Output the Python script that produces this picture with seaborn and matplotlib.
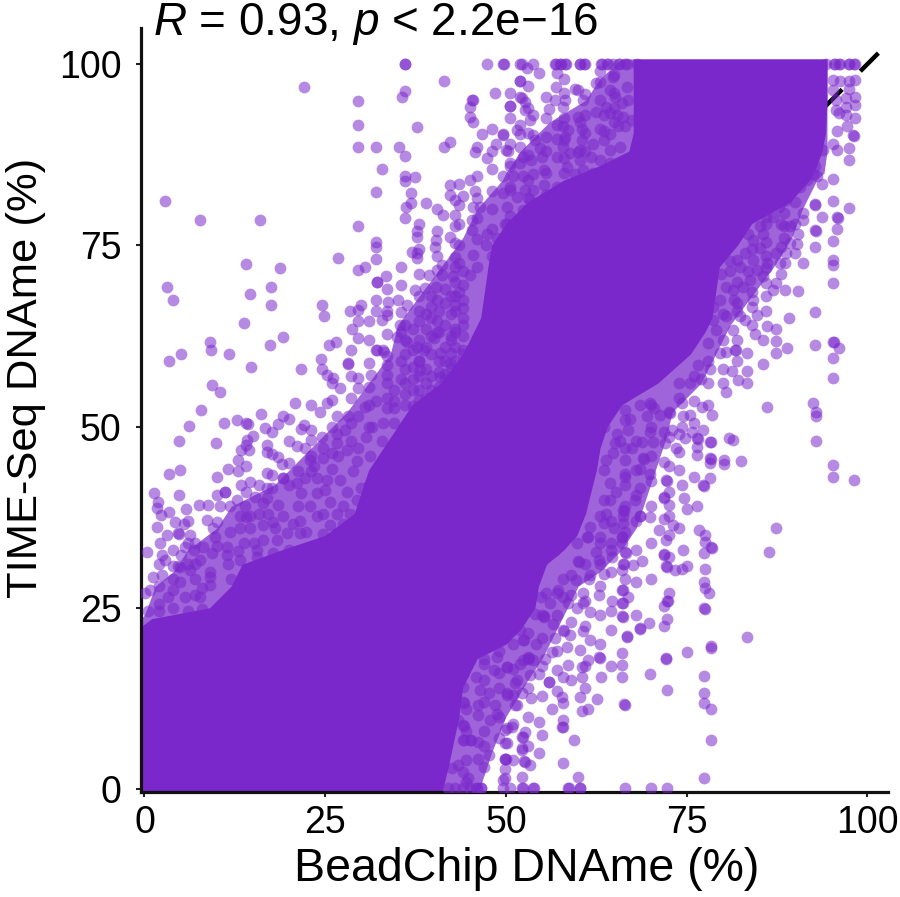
"""plot.py - BeadChip vs TIME-Seq DNA methylation scatter."""

import matplotlib
matplotlib.use("Agg")
import matplotlib.pyplot as plt
import seaborn as sns

PURPLE = "#7a28cb"

# Dense mass of overlapping points, read as left and right edges per y level
core_y = [-1, 3, 10, 14, 18, 20, 22, 23.5, 25, 28, 31, 33, 35, 38, 44, 47, 50, 53, 56,
          60, 63, 65, 72, 75, 78, 81, 84, 86, 88, 90.5, 95, 100.7]
core_left = [-1, -1, -1, -1, -1, -1, -1, 1, 9, 12, 13.5, 19, 25, 29, 31, 33, 35, 37, 41,
             44, 45.5, 46.5, 47.5, 48, 50, 53, 58, 63, 67, 67.6, 67.6, 67.6]
core_right = [41, 42, 43.5, 44, 46, 50, 52, 53, 54, 54.5, 55.6, 58, 59.8, 61, 62.5, 63, 64, 66, 71,
              75.5, 77.5, 78.5, 79.5, 82, 84, 89.3, 92, 93, 93.7, 94.2, 94.4, 94.4]

# Wider, mottled zone where points overlap but leave small gaps
halo_y = [-1, 5, 10, 15, 18, 22, 23, 24, 28, 30, 33, 36, 39, 42, 45, 48, 52, 56, 60, 64, 68, 72, 76,
          80, 84, 85, 88, 92, 95, 98, 100.7]
halo_left = [-1, -1, -1, -1, -1, -1, -1, 0, 1.5, 4, 6, 10, 12, 18, 21, 24, 28, 31, 34, 35, 38, 41, 44,
             46, 49.5, 50, 52, 56, 61, 63, 66]
halo_right = [46, 48, 50, 53, 55, 57, 57.5, 58, 60, 63, 66, 68, 69, 70, 71, 72, 73, 77, 79, 81, 84, 87, 89.5,
              91, 93, 94, 94.4, 94.4, 94.4, 94.4, 94.4]

# Points sitting on the 100 % line
top_x = [47.4, 49.6, 49.7, 51.9, 52.2, 53.8, 56.8, 56.9, 57.5, 57.6, 58.2, 58.3, 60.2, 60.3, 60.8, 60.9,
         63.2, 63.3, 64, 64.1, 64.8, 65.6, 65.7, 66.4, 66.7, 68.1, 94.2, 95.4, 95.5, 96.1, 96.2,
         97.4, 97.5, 98.2, 98.3, 36.0, 36.1]

# Points on the 0 % line
bottom_x = [42, 43, 44, 45, 45.9, 46, 46.5, 46.6, 49.6, 50.6, 52.2, 52.3, 53.8, 53.9, 58.6, 58.7, 60.2,
            60.3, 66.5, 70.1, 72.3]

# Outlying points above the diagonal, upper left
upper_left = [(52.9, 99.4), (22.1, 96.9), (29.6, 94.9), (36.0, 96.3), (35.6, 95.4), (41.4, 97.6), (45.3, 95.1),
              (45.5, 95.1), (45.0, 94.1), (45.0, 92.7), (45.4, 92.0), (48.5, 96.0), (50.6, 94.2), (52.0, 97.6),
              (52.0, 95.4), (29.6, 91.6), (37.7, 91.3), (29.6, 88.5), (32.0, 88.5), (35.2, 88.5), (36.0, 87.3),
              (41.4, 88.5), (42.3, 89.3), (32.8, 85.5), (45.7, 87.8), (46.7, 90.3), (47.4, 87.1), (48.6, 89.0),
              (50.3, 88.0), (49.6, 90.4), (51.5, 90.9), (36.0, 84.5), (37.4, 84.4), (36.0, 83.8), (36.9, 82.2),
              (32.0, 82.3), (42.3, 83.3), (42.3, 81.9), (44.1, 81.8), (45.0, 84.0), (45.7, 82.5), (43.0, 81.2),
              (38.9, 80.8), (36.9, 80.8), (36.2, 80.3), (36.0, 78.8), (2.9, 81.1), (7.7, 78.5), (16.0, 78.5),
              (29.5, 77.7), (41.3, 79.2), (43.0, 79.2), (43.0, 77.6), (45.5, 80.3), (46.4, 80.3), (45.3, 78.5),
              (45.3, 77.1), (47.4, 76.6), (49.9, 78.0), (48.7, 76.0), (37.7, 77.0), (37.7, 76.2), (40.3, 75.7),
              (40.2, 74.7), (42.3, 76.1), (43.0, 75.3), (47.3, 75.0), (32.0, 75.5), (32.0, 74.8), (32.0, 73.1),
              (37.0, 74.1), (37.7, 73.9), (37.7, 73.2), (43.0, 73.4), (45.4, 73.7), (41.2, 72.3), (41.2, 70.9),
              (43.0, 72.0), (42.7, 70.7), (45.0, 70.9), (26.8, 73.3), (14.1, 72.4), (18.8, 71.8), (30.5, 72.0),
              (29.5, 71.6), (33.4, 70.8), (32.1, 70.0), (32.2, 69.9), (39.4, 70.9), (3.1, 69.2), (4.0, 67.4),
              (17.5, 69.2), (14.6, 68.3), (17.5, 66.7), (13.7, 64.3), (24.5, 66.7), (24.8, 65.3), (28.4, 66.0),
              (30.0, 66.7), (29.5, 66.1), (29.5, 64.6), (28.7, 63.4), (29.5, 62.2), (32.0, 67.4), (32.0, 66.0),
              (33.7, 67.2), (33.5, 65.4), (32.8, 64.7), (35.1, 67.5), (36.3, 66.8), (38.8, 69.1), (40.3, 69.2),
              (37.4, 68.9), (39.7, 66.5), (40.4, 64.5), (35.3, 64.0), (19.1, 62.3), (17.4, 61.2), (9.1, 61.6),
              (9.2, 60.5), (11.7, 60.0), (5.1, 60.0), (3.4, 59.0), (14.8, 58.2), (25.5, 61.3), (26.5, 61.6),
              (24.4, 59.3), (24.5, 58.0), (21.7, 57.9), (28.1, 58.7), (28.2, 58.6), (25.2, 57.1), (26.1, 56.7),
              (9.4, 55.7), (10.5, 54.8), (27.0, 55.3), (29.5, 56.7), (29.5, 55.3), (31.4, 57.1), (33.5, 58.5),
              (33.5, 57.1), (32.0, 60.5), (32.1, 60.6), (33.0, 60.5), (33.1, 60.3), (34.9, 62.4), (36.3, 61.7),
              (37.7, 61.0), (40.0, 62.2), (38.6, 60.5), (37.2, 58.2), (38.1, 57.8), (40.9, 60.1), (42.3, 58.7),
              (40.9, 56.9)]

# Columns of points in the half-dense part between 35 and 48 % BeadChip
mid_cols_x = [34.5, 36, 37.2, 38, 39, 39.7, 40.8, 41.5, 42.4, 43, 44]
mid_cols_y = [[55, 53.5, 52.5],
              [64, 62, 60, 58, 56, 54.5, 53],
              [63.5, 60.5, 56.5, 55, 52.8],
              [66, 62, 59, 57, 55, 53.6],
              [65.5, 63.5, 61, 58, 56, 54],
              [68, 65, 62.5, 60, 57, 55],
              [66, 63, 59, 57.5, 55.4, 53.8],
              [69, 67, 64, 61, 59, 56.5, 54.5, 57.2],
              [68, 65.5, 62.5, 60.2, 58, 55.5, 62],
              [70, 68, 66, 63.5, 61, 59, 57, 55, 66.8, 63],
              [69.5, 67.5, 65, 62.5, 60.5, 58, 64, 66.4, 60, 71.5]]

# Columns of points along the upper edge of the diagonal cloud
edge_up_x = [2, 4, 7, 6, 10, 14, 17, 20, 23, 26, 28.5, 31, 33.5, 35.5, 38, 40.5, 43.5, 46, 48, 50.5, 53,
             55.5, 58, 61, 63, 65]
edge_up_y = [[24.5, 28, 31], [27.5, 29, 33], [29, 31, 34], [31, 34, 37], [33.5, 36.8, 40.5, 43],
             [37.5, 41, 44.5, 47.5], [40.2, 43.6, 47.5], [42, 45, 48, 51], [43.8, 46, 49.5, 53],
             [46.4, 50, 53.6, 56], [48, 50.5, 54, 57, 60.5], [50, 53, 55.5, 58.8, 62, 64.5],
             [54, 56, 59.7, 62.7, 66, 69], [56.5, 59, 63, 65.8, 69.5, 72], [59, 64.5, 68, 71, 74.5, 78],
             [63, 67.5, 71.6, 73.5, 77, 80], [68.5, 72.5, 75, 78, 80.5, 83.5], [72, 75.8, 78.8, 81.5, 84.5, 88.5],
             [73.5, 77.3, 80, 82.5, 85.5, 88, 91], [77, 79, 83, 86, 89, 92.5, 96], [79, 81.5, 84, 87.5, 90.5, 94, 97],
             [82, 85, 88, 90, 92.5, 95.5], [85, 87, 89.5, 92.5, 96, 98], [88, 90.5, 93, 95.8], [91, 95, 97.5, 99],
             [92, 94, 96, 98.5]]

# Columns of points along the lower edge of the diagonal cloud
edge_low_x = [44.5, 47, 49, 51, 53, 55, 57, 59, 61, 63, 64.5, 66.5, 68, 70, 72.5, 74, 76, 78, 80, 82, 84, 86,
              88, 90]
edge_low_y = [[1, 4, 8, 11], [3, 6, 8, 12, 15, 18], [7, 10, 14, 16, 19], [4, 9, 13, 16.5, 20], [6, 10, 14, 18, 21.5],
              [7.5, 12.8, 17, 20.8, 24], [13.5, 19, 24, 27], [15, 23, 26.8, 29.5], [14, 17, 22.5, 26, 31],
              [20, 24, 28, 31, 34], [17, 22, 24.5, 30, 33, 37], [29, 35.5, 39, 43, 47], [24, 28.5, 33, 37, 40.5, 44, 48],
              [29, 34, 39, 42.5, 46, 50, 53], [32, 35, 41, 44.5, 48.5, 52], [36, 44, 46.5, 49, 54, 56],
              [43, 50.5, 53.5, 57], [53, 56, 59, 61.5], [56, 58, 62, 65.5], [59, 62, 66, 70, 73], [64, 66.5, 68.5, 74.5],
              [66, 68, 73.5, 75.5, 78], [71, 74.8, 78, 81], [74, 78, 81, 83]]

# Band above the diagonal, 0-32 % BeadChip
lower_left = [(7.8, 52.3), (6.1, 50.1), (4.8, 48.0), (9.9, 47.7), (11.0, 50.5), (12.8, 50.9), (14.1, 50.5), (14.3, 50.4),
              (16.1, 51.7), (16.7, 49.8), (17.6, 49.2), (18.5, 50.4), (19.2, 51.4), (15.0, 48.7), (14.2, 48.1),
              (13.4, 46.8), (14.5, 46.8), (16.9, 46.5), (17.6, 46.2), (18.5, 45.8), (13.0, 45.4), (19.0, 44.8),
              (11.5, 44.2), (13.0, 43.9), (3.4, 43.5), (4.9, 44.0), (1.3, 40.9), (4.8, 40.6), (1.9, 39.6),
              (1.7, 38.7), (3.4, 38.2), (5.7, 38.6), (2.3, 37.8), (1.7, 36.2), (4.2, 36.9), (5.4, 36.6),
              (3.1, 35.0), (4.6, 35.3), (4.8, 35.2), (6.3, 35.0), (2.1, 33.9), (0.3, 32.7), (2.4, 32.3), (5.6, 33.4),
              (6.8, 33.0), (8.1, 33.4), (9.3, 32.5), (5.1, 32.3), (7.7, 31.6), (4.7, 30.7), (4.9, 30.6), (4.0, 30.7),
              (2.8, 31.6), (6.3, 30.2), (2.4, 29.5), (1.2, 29.3), (0.8, 27.5), (0.1, 27.0), (3.3, 26.5), (4.9, 28.6),
              (5.6, 26.5), (7.0, 26.8), (7.9, 27.7), (9.1, 29.3), (9.1, 28.1), (7.5, 39.2), (8.8, 39.2), (10.4, 39.0),
              (11.8, 39.0), (12.8, 39.9), (13.9, 39.0), (11.1, 41.0), (11.2, 41.0), (13.4, 42.0), (14.6, 42.4),
              (15.8, 41.9), (16.9, 41.5), (17.6, 41.5), (19.1, 42.9), (19.2, 42.9), (17.6, 43.3), (15.3, 40.3),
              (16.4, 39.4), (18.5, 39.2), (17.1, 38.0), (15.8, 38.0), (14.6, 37.6), (13.2, 37.6), (11.8, 35.5),
              (13.2, 36.0), (14.6, 36.0), (16.4, 36.4), (17.8, 36.9), (19.2, 37.6), (20.6, 36.6), (8.6, 37.1),
              (9.5, 36.0), (9.8, 34.8), (11.4, 33.4), (11.4, 32.3), (11.6, 31.1), (13.7, 33.9), (15.1, 33.9),
              (16.4, 34.4), (18.3, 34.4), (19.7, 35.3), (21.5, 35.3), (13.2, 31.6), (15.5, 32.0), (17.4, 31.1),
              (19.4, 31.6), (9.1, 30.0), (7.7, 26.5), (2.0, 25.5), (4.0, 25.0), (6.0, 24.6), (8.0, 24.8), (0.5, 24.5),
              (12.0, 29.0), (13.0, 32.8), (15.6, 33.0), (17.8, 32.6), (20.0, 33.0), (21.0, 32.0), (18.0, 36.0),
              (20.8, 53.2), (22.0, 50.2), (21.7, 49.7), (21.1, 47.3), (22.2, 47.0), (23.1, 48.1), (24.5, 48.6),
              (24.3, 52.0), (25.2, 53.2), (26.6, 51.4), (28.2, 51.4), (29.6, 51.4), (30.5, 52.7), (26.6, 49.0),
              (26.6, 47.7), (28.0, 46.8), (29.6, 47.0), (30.7, 48.6), (27.7, 49.5), (24.7, 47.0), (22.9, 45.4),
              (24.7, 45.6), (26.8, 46.0), (29.4, 45.2), (21.3, 43.8), (22.2, 42.9), (23.8, 42.9), (25.2, 42.6),
              (27.0, 42.6), (28.9, 43.8), (21.1, 42.2), (21.7, 40.8), (23.8, 40.8), (25.7, 39.6), (27.5, 39.0),
              (29.4, 39.9), (21.3, 39.0), (22.9, 39.0), (24.7, 38.0), (26.6, 38.0), (28.4, 38.0), (30.3, 38.5),
              (21.5, 37.0), (23.8, 37.6), (25.7, 36.4), (27.5, 36.6), (29.4, 36.6), (22.4, 35.5), (24.7, 35.2),
              (26.6, 35.3), (28.4, 35.5), (30.3, 35.5), (31.0, 42.0), (31.5, 50.0), (32.0, 53.5), (31.2, 46.0),
              (30.0, 41.5), (26.0, 44.2), (23.5, 44.5), (28.0, 41.0), (25.0, 41.2), (33.0, 50.5), (32.8, 48.0),
              (33.5, 52.5), (34.5, 50.5)]

# Upper middle, left of the top-right mass
upper_mid = [(54.6, 98.8), (52.0, 97.7), (57.1, 98.8), (56.9, 96.8), (59.5, 96.6), (60.0, 96.4), (50.6, 94.2),
             (52.2, 95.3), (52.6, 94.8), (56.8, 95.0), (58.2, 95.1), (60.7, 95.0), (56.0, 93.8), (57.9, 94.1),
             (62.5, 97.4), (64.8, 98.2), (52.6, 93.7), (53.8, 93.0), (53.3, 92.3), (52.0, 91.6), (59.9, 92.7),
             (60.2, 92.0), (62.5, 93.4), (63.5, 93.0), (64.4, 93.2), (65.3, 93.0), (66.2, 92.7), (63.9, 94.1),
             (64.4, 96.4), (65.1, 95.5), (66.7, 96.9), (66.0, 94.6), (66.9, 95.0), (57.0, 91.6), (57.9, 91.4),
             (58.6, 90.9), (60.5, 91.1), (63.5, 90.7), (64.4, 90.4), (65.5, 91.4), (66.5, 91.4), (67.4, 92.3),
             (49.6, 90.2), (51.9, 90.4), (53.8, 90.2), (54.0, 89.5), (57.0, 89.7), (51.9, 88.6), (50.0, 88.2),
             (54.7, 88.4), (58.2, 90.0), (57.9, 88.6), (60.5, 89.5), (60.2, 88.1), (62.1, 89.0), (63.5, 89.5),
             (64.4, 88.1), (65.8, 88.6), (52.4, 87.2), (50.5, 86.3), (51.9, 86.3), (53.5, 86.8), (55.0, 87.2),
             (57.0, 87.2), (58.9, 87.7), (60.2, 86.8), (63.5, 85.4), (64.4, 86.3), (63.0, 86.8), (49.6, 84.5),
             (51.0, 84.5), (52.4, 84.5), (53.8, 84.9), (55.2, 85.4), (58.4, 85.8), (60.7, 85.4), (61.8, 87.2),
             (59.5, 84.9), (52.6, 82.6), (53.8, 82.6), (50.5, 82.6), (55.2, 83.3), (49.6, 82.2), (51.5, 81.7),
             (53.3, 81.2), (55.2, 81.2), (56.1, 81.2), (58.9, 81.7), (61.0, 81.4), (63.5, 82.6), (50.1, 80.3),
             (52.4, 79.9), (54.2, 79.4), (56.1, 79.4), (50.1, 78.0), (51.9, 76.7), (53.8, 76.7), (55.6, 77.1),
             (50.1, 75.7), (52.4, 75.4), (57.0, 83.0), (59.5, 83.0), (61.5, 83.5), (60.0, 87.8), (62.0, 85.0)]

# Fringe to the right of the top-right mass
upper_right = [(95.3, 97.8), (96.2, 97.6), (97.4, 97.7), (98.3, 97.8), (95.3, 96.4), (97.4, 96.6), (98.3, 95.5),
               (97.1, 95.3), (95.7, 95.0), (95.7, 93.7), (97.1, 94.1), (98.3, 94.3), (96.0, 93.2), (97.1, 93.0),
               (98.3, 92.5), (95.8, 90.8), (97.2, 91.4), (98.0, 90.2), (98.1, 90.1), (95.3, 89.0), (95.8, 88.1),
               (97.4, 88.4), (97.4, 86.7), (95.3, 84.1), (95.3, 81.1), (97.4, 80.2), (95.8, 78.9), (95.9, 78.8),
               (95.8, 77.3), (95.3, 75.6), (95.3, 73.0), (95.3, 72.3), (95.3, 69.8), (93.8, 88.1), (92.7, 85.9),
               (93.0, 84.5), (93.7, 83.5), (92.7, 80.7), (92.8, 80.6), (93.7, 78.9), (92.8, 77.1), (92.9, 77.0),
               (92.8, 74.7), (92.7, 65.8), (92.8, 61.2), (95.3, 61.7), (95.4, 61.6), (96.0, 60.8), (95.3, 59.4),
               (95.3, 56.7), (91.1, 79.4), (91.1, 78.5), (90.4, 76.6), (89.3, 77.6), (88.4, 77.6), (88.4, 76.0),
               (89.3, 75.3), (90.2, 75.2), (91.1, 72.5), (88.8, 73.9), (87.4, 73.9), (87.9, 72.5), (86.1, 72.5),
               (88.6, 72.5), (90.4, 68.7), (86.0, 69.8), (87.4, 69.8), (88.6, 68.8), (87.0, 68.8), (89.1, 65.0),
               (86.1, 63.8), (87.4, 63.5), (87.4, 61.8), (88.9, 60.8), (87.3, 60.1), (85.6, 58.6), (84.2, 67.4),
               (83.1, 64.7), (84.7, 65.4), (85.6, 61.9), (84.4, 62.8), (83.3, 60.1), (81.7, 60.6), (81.8, 60.5),
               (80.5, 60.3), (79.6, 60.1), (79.1, 63.3), (81.2, 57.6), (83.3, 57.7), (82.1, 56.4), (83.4, 56.0),
               (80.5, 54.8), (78.2, 58.0), (85.1, 74.6), (81.4, 68.8), (82.8, 69.3), (85.6, 76.6), (84.2, 75.7),
               (87.0, 78.9), (88.4, 79.4), (88.8, 81.2), (87.7, 80.3), (86.0, 78.9), (85.1, 77.6), (83.5, 76.6),
               (83.0, 73.9), (84.2, 73.0), (82.4, 72.0), (81.0, 71.5), (80.5, 69.3), (79.6, 67.4), (81.5, 67.4),
               (78.7, 66.5), (80.5, 65.2), (78.7, 64.7), (82.4, 65.2), (81.4, 63.3), (83.7, 70.2), (85.6, 70.7),
               (86.0, 71.8), (84.7, 71.6), (91.6, 84.0), (92.5, 84.9), (90.7, 83.1), (89.8, 83.0), (80.0, 74.0),
               (81.0, 72.8), (79.8, 71.0), (83.5, 71.5), (82.0, 67.0), (77.0, 56.5), (75.5, 56.0), (76.5, 58.5)]

# Fringe below the diagonal, 50-98 % BeadChip
lower_right = [(74.4, 53.2), (77.1, 52.7), (78.5, 51.6), (74.5, 51.4), (75.5, 51.6), (74.3, 50.0), (75.7, 49.3),
               (74.8, 48.4), (76.4, 48.4), (76.5, 48.3), (77.3, 49.5), (78.2, 47.9), (78.3, 47.8), (76.4, 47.2),
               (76.4, 46.1), (78.2, 45.6), (78.3, 45.5), (78.2, 45.0), (80.1, 45.4), (80.1, 44.9), (82.5, 45.2),
               (80.8, 48.4), (81.4, 48.1), (86.1, 52.7), (92.5, 53.2), (92.9, 52.0), (92.9, 51.4), (92.9, 48.0),
               (95.3, 44.7), (95.3, 43.0), (98.1, 42.6), (87.3, 36.0), (86.4, 32.7), (83.3, 21.0), (78.2, 42.9),
               (77.3, 41.9), (77.4, 41.8), (74.3, 41.9), (74.6, 40.2), (75.1, 38.6), (76.4, 39.0), (76.7, 35.7),
               (77.5, 35.0), (77.5, 34.1), (78.4, 33.4), (78.5, 33.3), (74.5, 33.0), (77.4, 32.5), (77.5, 30.4),
               (77.4, 28.6), (77.5, 27.7), (78.1, 27.1), (77.4, 25.0), (77.5, 24.9), (78.3, 19.7), (78.3, 19.5),
               (75.1, 18.9), (77.4, 15.6), (77.4, 13.3), (77.4, 11.8), (78.3, 11.1), (78.3, 6.8), (77.4, 1.5),
               (72.1, 18.0), (72.2, 18.1), (69.9, 15.9), (72.3, 13.7), (72.5, 27.0), (72.3, 26.0), (72.4, 25.9),
               (71.8, 25.2), (72.3, 23.5), (71.8, 22.5), (69.8, 22.9), (68.5, 22.2), (68.6, 22.1), (66.7, 21.1),
               (66.8, 21.0), (66.0, 18.7), (66.1, 17.1), (66.1, 15.5), (66.3, 11.7), (66.4, 11.6), (66.1, 23.8),
               (66.2, 23.7), (66.1, 25.7), (66.2, 25.6), (66.1, 27.5), (66.2, 27.4), (64.6, 26.0), (66.9, 26.5),
               (62.8, 26.8), (61.6, 24.4), (60.6, 27.0), (60.7, 25.6), (59.8, 25.0), (58.6, 25.6), (57.9, 26.5),
               (57.9, 29.0), (59.7, 28.8), (61.5, 29.0), (57.9, 21.9), (58.0, 21.8), (58.9, 21.3), (60.7, 21.8),
               (61.6, 20.6), (56.8, 20.8), (58.4, 19.6), (60.2, 19.2), (62.9, 18.2), (63.0, 18.1), (61.4, 17.8),
               (60.5, 16.9), (58.6, 17.1), (57.0, 16.4), (57.9, 15.5), (60.5, 15.4), (63.1, 15.4), (55.9, 14.8),
               (56.0, 14.7), (54.6, 15.9), (53.3, 15.7), (51.2, 14.6), (50.1, 13.0), (52.2, 13.2), (53.5, 12.5),
               (51.2, 11.6), (56.3, 11.0), (57.9, 11.8), (57.7, 12.7), (60.3, 12.7), (62.6, 12.4), (61.4, 11.1),
               (60.5, 10.7), (54.6, 9.2), (57.9, 9.5), (57.8, 8.6), (57.9, 8.5), (59.4, 6.8), (52.6, 7.8),
               (52.2, 7.2), (50.8, 8.6), (49.9, 8.1), (49.9, 6.3), (52.2, 5.6), (54.6, 5.0), (52.5, 3.8),
               (52.6, 3.7), (53.3, 3.3), (49.9, 4.2), (57.9, 3.6), (59.9, 1.7), (52.2, 1.7), (49.9, 2.8),
               (49.6, 1.2), (66.2, 31.1), (66.3, 31.0), (68.8, 31.5), (67.6, 30.9), (64.6, 32.0), (66.0, 30.2),
               (63.5, 29.7), (61.6, 29.5), (60.0, 31.4), (60.1, 31.3), (62.5, 32.7), (62.8, 31.6), (72.2, 30.7),
               (72.3, 30.6), (73.4, 30.2), (74.4, 30.3), (75.0, 30.7), (71.8, 32.4), (71.9, 32.3), (72.2, 34.3),
               (73.1, 36.4), (71.1, 35.7), (71.8, 37.3), (69.9, 37.5), (72.5, 37.6), (68.5, 37.7), (68.6, 37.6),
               (66.2, 38.5), (66.3, 38.4), (66.2, 37.6), (66.2, 36.7), (66.0, 34.8), (66.1, 34.7), (66.0, 33.9),
               (66.5, 32.7), (66.6, 32.6), (67.8, 39.9), (71.8, 40.3), (71.9, 40.2), (72.5, 39.2), (72.2, 42.6),
               (72.3, 42.5), (71.8, 45.1), (69.0, 45.6), (69.1, 45.5), (68.5, 44.2), (69.9, 43.5), (68.5, 41.5),
               (66.5, 45.4), (66.5, 43.5), (66.5, 41.9), (64.8, 46.3), (68.8, 47.9), (70.4, 47.9), (72.0, 47.7),
               (69.9, 49.3), (71.8, 49.3), (69.5, 51.4), (71.3, 51.6), (72.7, 51.8), (68.5, 53.0), (69.9, 53.2),
               (66.5, 50.9), (66.5, 52.3), (66.9, 49.5), (65.3, 49.0), (63.9, 51.8), (65.1, 47.7), (63.5, 50.0),
               (55.2, 23.8), (55.3, 23.7), (56.1, 25.6), (56.5, 22.8), (55.4, 18.0), (56.3, 18.9), (54.2, 20.0),
               (52.4, 20.6), (52.5, 20.5), (53.1, 18.2), (53.2, 18.1), (53.8, 17.8), (51.9, 17.3), (50.1, 16.9),
               (50.2, 16.8), (51.9, 21.9), (54.0, 24.2), (54.9, 26.5), (55.6, 27.0), (57.2, 27.4), (57.9, 36.2),
               (58.0, 36.1), (56.5, 33.0), (56.6, 32.9), (55.2, 32.5), (55.3, 32.4), (59.8, 33.9), (61.2, 34.8),
               (61.3, 34.7), (63.0, 34.8), (61.6, 36.2), (63.5, 36.7), (63.9, 38.0), (63.0, 37.6), (64.4, 39.9),
               (63.5, 39.9), (64.4, 42.2), (63.5, 44.0), (63.9, 45.4), (65.2, 41.0), (65.0, 36.0), (64.5, 34.0),
               (65.8, 48.0), (67.5, 47.0), (67.2, 51.0), (65.0, 53.5), (70.5, 52.5), (73.0, 49.5), (73.5, 47.0)]

# Below the dense mass, 42-52 % BeadChip
lower_mid = [(46.2, 4.2), (47.6, 4.7), (46.2, 6.5), (45.0, 6.8), (45.1, 6.7), (44.1, 6.8), (44.2, 6.7), (43.4, 3.3),
             (42.5, 2.9), (44.1, 2.4), (44.8, 1.5), (44.1, 8.8), (44.2, 8.7), (43.4, 9.5), (44.1, 12.0), (44.2, 11.9),
             (46.2, 11.6), (46.2, 10.2), (47.6, 13.2), (47.8, 9.5), (48.5, 11.6), (50.1, 13.2), (51.5, 11.6),
             (50.1, 8.4), (50.1, 6.3), (49.9, 4.2), (50.0, 4.1), (52.4, 7.2), (52.2, 5.4), (49.9, 1.5), (48.7, 10.4),
             (45.9, 15.5), (44.1, 14.1), (44.1, 15.9), (46.4, 13.7), (48.3, 16.4), (46.9, 17.3), (45.0, 17.8),
             (43.2, 17.8), (51.5, 15.0), (48.7, 18.2), (52.4, 17.8)]

x_ticks = [0, 25, 50, 75, 100]
y_ticks = [0, 25, 50, 75, 100]
diag = [0, 110]

sns.set_theme(style="ticks")
plt.rcParams["font.family"] = ["Liberation Sans", "DejaVu Sans"]
plt.rcParams["mathtext.fontset"] = "custom"
plt.rcParams["mathtext.rm"] = "Liberation Sans"
plt.rcParams["mathtext.it"] = "Liberation Sans:italic"
plt.rcParams["lines.scale_dashes"] = False

fig = plt.figure(figsize=(9, 8.97), dpi=100)
ax = fig.add_axes([141 / 900, 105 / 897, 747 / 900, 764 / 897])

# y = x reference line sits under the points
sns.lineplot(x=diag, y=diag, color="black", linewidth=3.2, linestyle=(8.1, (18.4, 18.5)), ax=ax, zorder=1)
ax.lines[-1].set_dash_capstyle("butt")

ax.fill_betweenx(halo_y, halo_left, halo_right, color=PURPLE, alpha=0.72, linewidth=0, zorder=2)
ax.fill_betweenx(core_y, core_left, core_right, color=PURPLE, linewidth=0, zorder=2)

pts_x = list(top_x) + list(bottom_x)
pts_y = [100] * len(top_x) + [0.1] * len(bottom_x)
for region in [upper_left, lower_left, upper_mid, upper_right, lower_right, lower_mid]:
    pts_x += [p[0] for p in region]
    pts_y += [p[1] for p in region]
for cols_x, cols_y in [(mid_cols_x, mid_cols_y), (edge_up_x, edge_up_y), (edge_low_x, edge_low_y)]:
    for cx, ys in zip(cols_x, cols_y):
        pts_x += [cx] * len(ys)
        pts_y += ys

sns.scatterplot(x=pts_x, y=pts_y, color=PURPLE, alpha=0.55, s=72, linewidth=0, ax=ax, zorder=3)

ax.set_xlim(-0.48, 102.84)
ax.set_ylim(-0.41, 104.97)
ax.set_xticks(x_ticks)
ax.set_yticks(y_ticks)
ax.tick_params(labelsize=27, length=3.6, width=1.5, color="#222222", labelcolor="black")
ax.tick_params(axis="x", pad=6)
ax.tick_params(axis="y", pad=10.5)
ax.set_xlabel("BeadChip DNAme (%)", fontsize=33.5, color="black", labelpad=4, x=0.516)
ax.set_ylabel("TIME-Seq DNAme (%)", fontsize=31.3, color="black", labelpad=9, y=0.542)
for side in ["left", "bottom"]:
    ax.spines[side].set_linewidth(2.3)
    ax.spines[side].set_color("#111111")
sns.despine(ax=ax)

fig.text(153 / 900, 1 - 35 / 897, r"$\mathit{R}$ = 0.93, $\mathit{p}$ < 2.2e−16", fontsize=33, color="black")

fig.savefig("out.png", dpi=100)
plt.close(fig)
